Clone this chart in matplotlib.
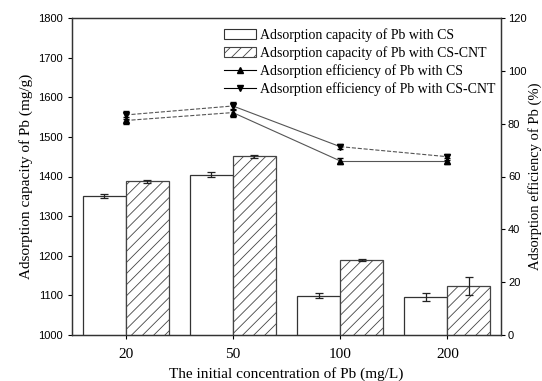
import matplotlib
matplotlib.use("Agg")
import matplotlib.pyplot as plt
import numpy as np
from matplotlib.lines import Line2D
from matplotlib.patches import Patch

categories = ["20", "50", "100", "200"]
cap_cs = [1351, 1405, 1099, 1097]
cap_cs_err = [6, 6, 6, 10]
cap_cnt = [1388, 1451, 1189, 1124]
cap_cnt_err = [4, 4, 3, 23]
eff_cs = [81.2, 84.2, 65.9, 65.9]
eff_cs_err = [1.5, 1.5, 1.0, 1.0]
eff_cnt = [83.3, 86.7, 71.3, 67.5]
eff_cnt_err = [1.5, 1.5, 1.0, 1.2]
seg_cs = ["--", "-", "-"]
seg_cnt = ["--", "-", "--"]

serif = "Liberation Serif"
sans = "Liberation Sans"
plt.rcParams["hatch.linewidth"] = 0.6

fig = plt.figure(figsize=(5.42, 3.81), dpi=100)
ax = fig.add_axes([72/542, 1-335/381, (501-72)/542, (335-18)/381])
x = np.arange(len(categories))
w = 0.4
ax.bar(x - w/2, cap_cs, w, color="white", edgecolor="#333333", linewidth=0.9,
       yerr=cap_cs_err, error_kw=dict(ecolor="#222222", elinewidth=0.9, capsize=3, capthick=0.9))
ax.bar(x + w/2, cap_cnt, w, color="white", edgecolor="#444444", linewidth=0.9, hatch="///",
       yerr=cap_cnt_err, error_kw=dict(ecolor="#222222", elinewidth=0.9, capsize=3, capthick=0.9))
ax.set_ylim(1000, 1800)
ax.set_xlim(-0.5, 3.5)
ax.set_xticks(x)
ax.set_xticklabels(categories, fontfamily=serif, fontsize=11)
ax.set_yticks(np.arange(1000, 1801, 100))
for lab in ax.get_yticklabels():
    lab.set_fontfamily(sans)
    lab.set_fontsize(8)
ax.tick_params(direction="out", length=3, width=0.8)
ax.tick_params(axis="x", pad=6)
ax.set_xlabel("The initial concentration of Pb (mg/L)", fontfamily=serif, fontsize=11, labelpad=5)
ax.set_ylabel("Adsorption capacity of Pb (mg/g)", fontfamily=serif, fontsize=11, labelpad=4)

ax2 = ax.twinx()
ax2.set_ylim(0, 120)
ax2.set_yticks(np.arange(0, 121, 20))
for lab in ax2.get_yticklabels():
    lab.set_fontfamily(sans)
    lab.set_fontsize(8)
ax2.tick_params(direction="out", length=3, width=0.8, pad=2)
ax2.set_ylabel("Adsorption efficiency of Pb (%)", fontfamily=serif, fontsize=10.5, labelpad=1)

for vals, errs, segs, mk in [(eff_cs, eff_cs_err, seg_cs, "^"), (eff_cnt, eff_cnt_err, seg_cnt, "v")]:
    for i, ls in enumerate(segs):
        ax2.plot(x[i:i+2], vals[i:i+2], linestyle=ls, color="#555555", linewidth=0.8)
    ax2.errorbar(x, vals, yerr=errs, fmt=mk, color="black", markersize=5,
                 ecolor="black", elinewidth=0.8, capsize=2.5)

for a in (ax, ax2):
    for s in a.spines.values():
        s.set_linewidth(0.9)
        s.set_color("#333333")

handles = [
    Patch(facecolor="white", edgecolor="#333333", linewidth=0.8),
    Patch(facecolor="white", edgecolor="#444444", linewidth=0.8, hatch="///"),
    Line2D([], [], color="black", marker="^", linestyle="-", linewidth=0.8, markersize=5),
    Line2D([], [], color="black", marker="v", linestyle="-", linewidth=0.8, markersize=5),
]
labels = ["Adsorption capacity of Pb with CS", "Adsorption capacity of Pb with CS-CNT",
          "Adsorption efficiency of Pb with CS", "Adsorption efficiency of Pb with CS-CNT"]
ax.legend(handles, labels, loc="upper left", bbox_to_anchor=(0.33, 1.0), frameon=False,
          prop=dict(family=serif, size=10), handlelength=2.3, handletextpad=0.3,
          labelspacing=0.3, borderaxespad=0.35)

fig.savefig("out.png", dpi=100)
